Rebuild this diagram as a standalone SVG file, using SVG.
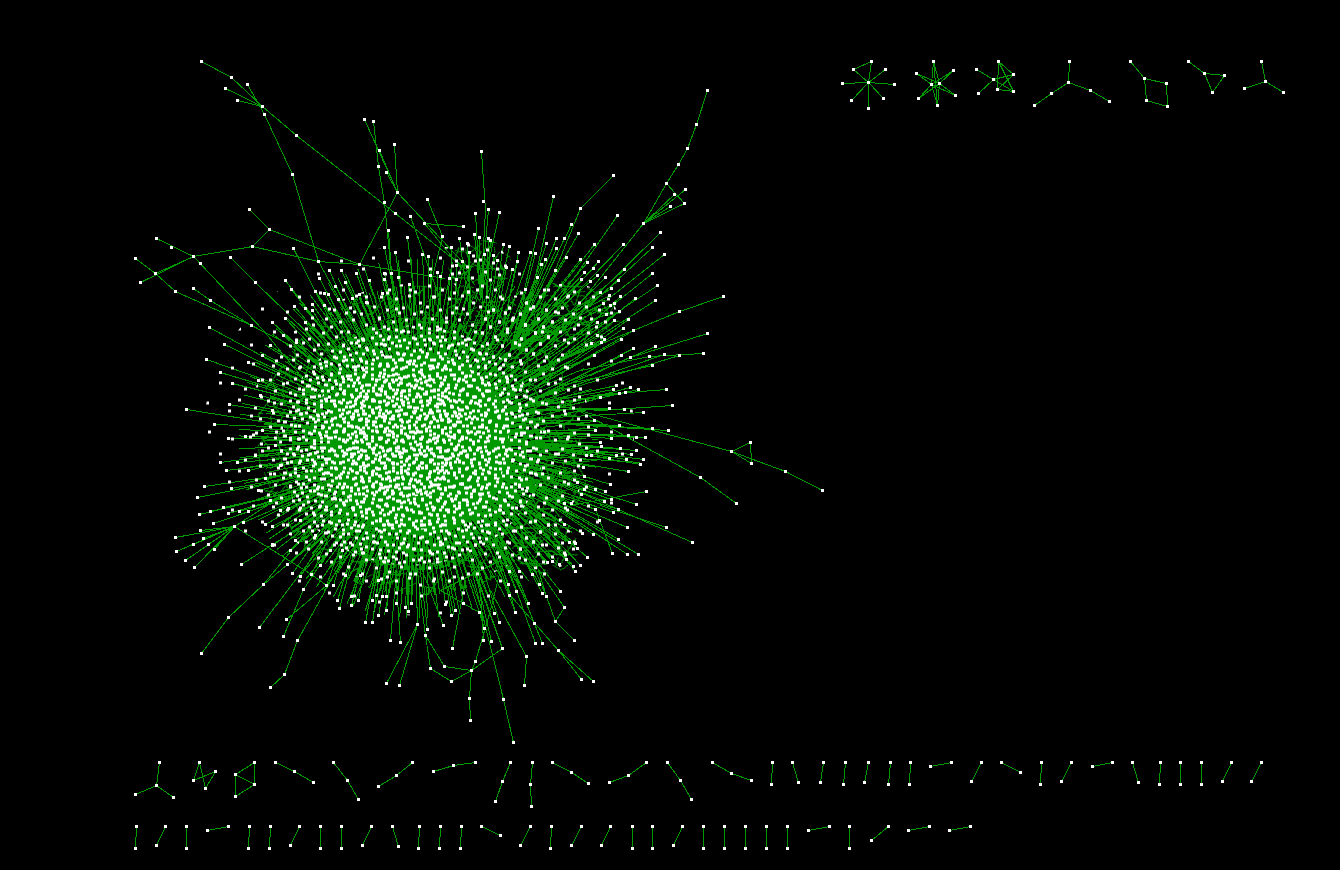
<svg xmlns="http://www.w3.org/2000/svg" width="1340" height="870" viewBox="0 0 1340 870">
<style>
.e{fill:none;stroke:#090;stroke-width:1;shape-rendering:crispEdges}
.r{fill:none;stroke:#090;shape-rendering:crispEdges}
.n{fill:none;stroke:#fff;stroke-width:3;shape-rendering:crispEdges}
</style>
<defs>
<pattern id="pa" width="41" height="37" patternUnits="userSpaceOnUse"><path class="n" d="M3 4h3M11 2h3M19 5h3M27 3h3M35 6h3M7 10h3M15 11h3M23 9h3M31 12h3M38 14h3M4 17h3M12 18h3M20 15h3M28 19h3M35 20h3M8 24h3M16 23h3M24 26h3M32 25h3M38 28h3M3 30h3M11 31h3M19 32h3M27 33h3M34 34h3M14 6h3M30 7h3"/></pattern>
<pattern id="pa2" width="41" height="37" patternUnits="userSpaceOnUse" patternTransform="translate(13 17)"><path class="n" d="M3 4h3M11 2h3M19 5h3M27 3h3M35 6h3M7 10h3M15 11h3M23 9h3M31 12h3M38 14h3M4 17h3M12 18h3M20 15h3M28 19h3M35 20h3M8 24h3M16 23h3M24 26h3M32 25h3M38 28h3M3 30h3M11 31h3M19 32h3M27 33h3M34 34h3"/></pattern>
<pattern id="pb" width="53" height="47" patternUnits="userSpaceOnUse"><path class="n" d="M5 3h3M18 7h3M30 2h3M44 9h3M10 14h3M25 16h3M38 13h3M49 20h3M3 24h3M16 27h3M32 25h3M43 31h3M8 36h3M22 39h3M35 37h3M48 42h3M13 44h3M28 30h3"/></pattern>
<pattern id="pc" width="67" height="71" patternUnits="userSpaceOnUse"><path class="n" d="M8 5h3M31 12h3M52 8h3M19 27h3M44 33h3M61 24h3M6 47h3M28 55h3M50 60h3M38 44h3"/></pattern>
<pattern id="pd" width="29" height="31" patternUnits="userSpaceOnUse"><path class="n" d="M2 3h3M9 7h3M16 2h3M24 6h3M5 13h3M13 15h3M21 12h3M25 18h3M3 22h3M10 24h3M18 21h3M24 27h3M7 28h3M15 28h3"/></pattern>
<pattern id="e1" width="37" height="35" patternUnits="userSpaceOnUse" patternTransform="rotate(20)"><path class="e" d="M2 3L14 16M20 2L12 30M24 6L36 14M35 20L22 33M3 22L18 18M6 33L16 22M26 18L33 33M30 2L24 16"/></pattern>
<pattern id="e2" width="37" height="35" patternUnits="userSpaceOnUse" patternTransform="rotate(75)"><path class="e" d="M2 3L14 16M20 2L12 30M24 6L36 14M35 20L22 33M3 22L18 18M6 33L16 22M26 18L33 33M30 2L24 16"/></pattern>
<pattern id="e3" width="31" height="29" patternUnits="userSpaceOnUse" patternTransform="rotate(130)"><path class="e" d="M2 3L14 16M20 2L12 27M24 6L30 14M29 20L22 27M3 22L18 18M6 27L16 22M26 18L28 27M28 2L24 16"/></pattern>
</defs>
<rect width="1340" height="870" fill="#000"/>
<g id="connectors" transform="translate(.5 .5)">
<ellipse cx="418" cy="443" rx="93" ry="92" fill="#090"/>
<ellipse cx="420" cy="440" rx="165" ry="155" fill="url(#e1)"/>
<ellipse cx="420" cy="442" rx="145" ry="135" fill="url(#e2)"/>
<ellipse cx="420" cy="442" rx="122" ry="115" fill="url(#e3)"/>
<ellipse cx="420" cy="442" rx="122" ry="115" fill="url(#e1)"/>
<ellipse cx="480" cy="268" rx="32" ry="30" fill="url(#e2)"/>
<ellipse cx="480" cy="268" rx="26" ry="26" fill="url(#e1)"/>
<ellipse cx="570" cy="315" rx="50" ry="35" fill="url(#e2)"/>
<ellipse cx="570" cy="315" rx="42" ry="28" fill="url(#e3)"/>
<ellipse cx="545" cy="545" rx="34" ry="28" fill="url(#e2)"/>
<ellipse cx="545" cy="545" rx="28" ry="22" fill="url(#e3)"/>
<ellipse cx="510" cy="335" rx="48" ry="42" fill="url(#e3)"/>
<ellipse cx="530" cy="470" rx="60" ry="55" fill="url(#e3)"/>
<circle class="r" cx="418" cy="443" r="100" stroke-width="18" stroke-dasharray="3 1 2 1 4 1 2 1"/>
<circle class="r" cx="418" cy="443" r="116" stroke-width="22" stroke-dasharray="2 1 1 2 3 2 1 1 1 3"/>
<circle class="r" cx="418" cy="440" r="140" stroke-width="30" stroke-dasharray="1 3 2 4 1 3 1 6 1 3"/>
<circle class="r" cx="418" cy="438" r="165" stroke-width="30" stroke-dasharray="1 7 1 11 1 5 1 13 1 9"/>
<path class="e" d="M201 61L231 77L262 106L296 135L395 213L470 272M247 84L264 114L292 174L318 261L345 310M225 88L262 106M237 100L262 106M364 119L397 192M373 121L378 166L384 202L392 285M394 144L397 192M379 150L397 192M386 172L397 192M397 192L359 264M397 192L470 270M427 199L442 236L430 285M424 223L463 226M424 223L475 285M410 216L440 300M249 209L269 229L252 246L193 256L155 273M269 229L359 264M252 246L318 261L359 264L445 278M156 238L193 256L263 330L300 375M140 282L193 256M135 258L155 273L175 291L251 325L300 350M230 257L255 282L320 345M193 288L210 300L251 325M293 248L340 340M388 230L395 330M707 90L696 124L687 148L678 164L666 183L643 223L550 340M666 183L684 203M643 223L685 189M643 223L684 203M643 223L674 194M643 223L670 206M613 175L580 208L530 330M553 196L525 320M481 151L485 210L480 300M723 296L679 311L560 360M707 333L630 357L590 375M703 353L649 356L580 370M652 365L560 385M666 389L590 395M672 405L600 410L540 405M731 451L750 442L751 463L731 451L785 471L822 490M731 451L560 405M736 503L700 477L560 400M692 542L530 470M666 527L600 505M646 491L570 505M612 553L595 509M558 650L581 679M558 650L593 681M558 650L510 595M524 685L526 656L490 590M555 621L574 640M555 621L564 607M555 621L546 596L535 560M560 591L520 540M234 526L175 537M234 526L176 551M234 526L185 560M234 526L194 567M234 526L193 544M234 526L203 538M234 526L200 530M234 526L208 544M234 526L214 549M234 526L311 574L326 585M234 526L290 490M241 564L272 544L345 500M201 653L228 617L263 584L287 564L340 515M259 627L340 520M286 619L326 585L365 530M283 636L303 589L345 525M270 687L284 674L297 640L350 545M386 683L417 624M399 685L417 624L415 555M425 635L415 555M425 635L444 666L471 670M425 635L430 668L451 681L471 670L502 648L470 560M471 670L475 661L490 610L500 570M471 670L469 698L470 720M513 742L503 699L465 545M443 625L418 560M452 648L465 580M483 640L478 560M390 640L396 570M400 642L395 570M491 641L472 560M499 622L480 560M479 612L440 590L500 560M540 445L600 455M545 450L610 452M535 460L590 448M530 455L640 462"/>
<path class="e" d="M285 280L400 430M291 289L400 430M294 306L400 430M305 308L400 430M319 278L400 430M329 270L400 430M341 270L410 420M356 273L410 420M369 280L410 420M384 273L420 420M384 279L420 420M391 273L420 420M398 277L420 420M409 284L420 420M345 282L410 420M335 286L410 420M315 291L400 430M328 294L400 430M324 293L400 430M312 304L400 430M324 305L400 430M338 299L410 420M352 298L410 420M359 294L410 420M366 302L410 420M382 293L420 420M395 252L420 420M384 247L420 420M407 237L430 420M422 254L430 420M428 256L430 420M437 272L440 420M430 275L440 420M440 276L440 420M449 278L440 420M456 279L450 420M456 265L450 420M451 247L450 420M459 238L470 320M467 243L470 320M469 252L470 320M475 213L480 300M474 234L480 300M479 237L480 300M462 261L470 320M488 209L480 300M499 212L480 300M488 238L485 320M490 240L485 320M503 244L490 330M509 246L490 330M518 252L500 340M530 252L500 340M535 253L510 350M517 261L500 340M546 243L510 350M556 238L510 350M564 238L510 350M556 248L510 350M566 257L510 350M541 264L510 350M545 259L510 350M555 270L510 350M538 228L510 350M571 224L510 350M578 233L510 350M617 215L530 340M594 244L510 350M598 261L520 350M623 244L520 350M660 232L530 360M652 247L530 360M664 254L530 360M624 269L520 360M618 280L520 360M605 277L520 360M652 273L530 370M657 285L530 370M655 300L530 380M635 298L530 380M620 296L530 380M619 311L530 380M614 320L530 380M628 319L530 390M633 330L530 390M623 328L530 390M621 339L530 390M655 346L530 400M633 348L530 400M679 355L530 400M664 354L530 400M630 357L530 400M621 355L530 400M580 259L510 350M587 262L510 350M593 268L510 350M584 272L510 350M597 275L510 350M581 279L510 350M590 281L510 350M600 292L510 350M609 295L510 350M611 288L510 350M614 303L510 350M606 314L510 350M603 303L510 350M610 305L510 350M597 322L510 370M604 339L510 380M601 342L510 380M594 355L510 390M591 343L510 390M597 335L510 390M537 277L500 350M525 289L500 350M512 269L490 350M506 267L490 350M497 260L485 340M493 255L485 340M484 254L480 340"/>
<path class="e" d="M638 389L500 420M630 387L500 420M643 412L500 420M668 430L500 420M652 428L500 420M645 437L500 430M636 437L500 430M628 435L500 430M636 450L500 440M643 459L500 440M640 464L500 440M628 471L500 450M610 484L500 450M605 491L500 450M636 504L500 460M638 554L500 470M627 554L500 470M618 539L500 470M593 534L500 470M587 557L500 480M580 565L500 480M575 571L500 480M573 566L500 480M546 596L500 490M528 603L480 490M515 612L480 490M534 623L480 490M542 643L480 490M535 643L480 490M564 607L490 500M616 385L500 410M613 389L500 410M619 393L500 410M625 392L500 410M600 397L500 410M624 409L500 410M609 408L500 410M619 425L500 420M594 420L500 420M595 430L500 430M611 438L500 430M600 442L500 440M601 446L500 440M620 448L500 440M631 454L500 440M616 455L500 440M626 459L500 440M609 458L500 440M591 455L500 440M586 455L500 440M583 467L500 450M584 476L500 450M577 482L500 450M595 489L500 450M584 489L500 460M581 494L500 460M604 501L500 460M611 499L500 460M571 503L490 460M564 503L490 460M595 509L490 470M613 512L490 470M618 509L490 470M599 520L490 470M627 527L490 470M582 533L490 480M564 524L490 480M575 543L490 480M569 542L490 480M577 548L490 480M566 559L480 480M559 564L480 480M552 561L480 480M547 562L480 480M532 574L480 480M539 584L480 480M542 593L480 480M516 591L470 480M508 584L470 480M509 595L470 480M519 571L470 480M509 571L470 480M515 612L470 500M528 603L470 500M502 648L450 500"/>
<path class="e" d="M199 514L340 480M210 511L340 480M223 507L340 480M228 513L340 480M213 523L340 480M239 511L340 480M248 511L340 480M243 522L340 480M265 524L340 480M272 526L340 490M263 584L340 490M300 576L350 490M292 573L350 490M311 574L350 490M326 585L360 490M333 585L360 490M337 600L370 490M339 608L370 490M351 605L380 490M358 600L380 490M351 596L380 490M372 600L390 490M376 595L390 490M382 596L390 490M386 596L390 490M365 622L390 490M372 622L390 490M378 615L400 490M386 610L400 490M396 603L410 490M405 607L410 490M408 611L410 490M411 603L410 490M427 629L410 490M451 615L430 490M455 610L430 490M445 604L430 490M463 603L440 490M484 628L440 490M494 613L450 490"/>
<path class="e" d="M209 327L380 420M224 344L380 420M206 359L380 420M220 372L380 420M232 383L380 420M186 409L380 440M229 404L380 430M214 424L380 430M228 438L380 440M245 436L380 440M258 380L380 430M248 362L380 420M262 355L380 420M270 345L380 420M283 335L380 420M296 342L380 420M272 322L380 420M285 318L380 420M305 322L380 420M312 310L380 420M260 395L380 430M272 410L380 430M262 430L380 440M275 445L380 440M255 455L380 440M248 470L380 440M220 462L380 440M237 462L380 450M226 470L380 450M265 478L380 450M280 465L380 450M270 500L380 450M280 510L380 450M197 497L380 460M204 486L380 460M231 488L380 460M258 490L380 460M288 508L380 460M300 520L380 470M315 535L380 470M295 540L380 470M330 550L380 470M342 550L380 470M320 565L380 470M345 575L390 470M360 575L390 470M378 580L390 470M290 550L380 470M272 545L380 470"/>
<path class="e" d="M842 83L868 82M853 69L868 82M871 61L868 82M853 69L871 61M885 69L868 82M894 84L868 82M851 100L868 82M883 98L868 82M868 108L868 82M933 61L937 105M933 61L931 84L937 105M939 83L933 61M939 83L937 105M916 73L939 83M916 73L931 84M953 70L931 84M953 70L939 83M918 98L931 84M918 98L939 83M955 95L931 84M955 95L939 83M976 69L993 79L1013 74M993 79L978 93M993 79L1013 91M998 61L1013 74L997 89L1013 91M998 61L997 89M998 61L1013 91M1069 61L1068 82L1051 93L1034 105M1068 82L1090 90L1109 101M1130 61L1144 78L1166 83L1167 106L1146 100L1144 78M1188 61L1204 73L1224 75L1212 92L1204 73M1261 61L1265 81L1244 88M1265 81L1283 92"/>
<path class="e" d="M159 762L156 785L135 794M156 785L173 797M199 762L193 780L215 771L205 788L199 762M254 762L235 774L254 784L254 762M235 774L235 796L254 784M275 762L294 771L313 782M333 762L347 780L358 799M412 762L396 775L378 786M433 771L453 765L475 762M510 762L502 781L495 801M532 762L530 784L531 806M552 762L571 772L588 783M609 782L628 775L646 762M667 762L680 780L691 799M712 762L731 773L751 780M772 762L771 784M792 762L798 782M823 762L820 782M845 762L843 784M868 762L864 782M890 762L888 784M910 762L909 784M930 766L951 762M981 762L971 781M1001 762L1020 772M1041 762L1040 784M1071 762L1061 781M1092 766L1112 762M1132 762L1138 782M1160 762L1159 784M1180 762L1180 784M1201 762L1201 784M1231 762L1222 781M1261 762L1251 781"/>
<path class="e" d="M136 826L135 848M165 826L156 845M186 826L186 848M207 830L228 826M249 826L248 848M270 826L269 848M299 826L290 845M320 826L320 848M341 826L341 848M371 826L362 845M392 826L398 846M419 826L418 848M440 826L439 848M461 826L460 848M481 826L500 835M530 826L520 845M551 826L550 848M581 826L571 845M610 826L601 845M632 826L632 848M652 826L652 848M682 826L673 845M703 826L703 848M724 826L724 848M745 826L745 848M766 826L766 848M787 826L787 848M808 830L829 826M849 826L849 848M888 826L871 840M908 830L929 826M949 830L970 826"/>
</g>
<g transform="translate(-1 .5)">
<g id="giant">
<ellipse cx="420" cy="430" rx="215" ry="185" fill="url(#pc)"/>
<ellipse cx="420" cy="435" rx="172" ry="152" fill="url(#pb)"/>
<ellipse cx="412" cy="445" rx="132" ry="120" fill="url(#pa)"/>
<ellipse cx="410" cy="440" rx="100" ry="90" fill="url(#pd)"/>
<ellipse cx="405" cy="435" rx="62" ry="62" fill="url(#pa2)"/>
<ellipse cx="480" cy="268" rx="30" ry="28" fill="url(#pb)"/>
<ellipse cx="570" cy="315" rx="48" ry="32" fill="url(#pb)"/>
<ellipse cx="545" cy="545" rx="32" ry="25" fill="url(#pb)"/>
<ellipse cx="515" cy="330" rx="42" ry="35" fill="url(#pb)"/>
<path class="n" d="M201 61h3M231 77h3M247 84h3M225 88h3M237 100h3M262 106h3M264 114h3M296 135h3M292 174h3M364 119h3M373 121h3M394 144h3M379 150h3M378 166h3M386 172h3M397 192h3M384 202h3M395 213h3M427 199h3M410 216h3M424 223h3M463 226h3M442 236h3M249 209h3M269 229h3M252 246h3M359 264h3M318 261h3M293 248h3M193 256h3M156 238h3M171 247h3M200 263h3M135 258h3M155 273h3M140 282h3M175 291h3M230 257h3M255 282h3M193 288h3M210 300h3M251 325h3M707 90h3M696 124h3M687 148h3M678 164h3M666 183h3M643 223h3M674 194h3M685 189h3M684 203h3M670 206h3M613 175h3M580 208h3M553 196h3M617 215h3M571 224h3M578 233h3M538 228h3M660 232h3M652 247h3M664 254h3M623 244h3M594 244h3M598 261h3M652 273h3M657 285h3M655 300h3M635 298h3M723 296h3M679 311h3M707 333h3M628 319h3M633 330h3M623 328h3M621 339h3M655 346h3M633 348h3M703 353h3M679 355h3M664 354h3M649 356h3M630 357h3M621 355h3M624 269h3M618 280h3M605 277h3M620 296h3M619 311h3M614 320h3M652 365h3M666 389h3M638 389h3M630 387h3M672 405h3M643 412h3M668 430h3M652 428h3M645 437h3M636 437h3M628 435h3M731 451h3M750 442h3M751 463h3M785 471h3M822 490h3M700 477h3M736 503h3M636 450h3M643 459h3M640 464h3M628 471h3M610 484h3M605 491h3M646 491h3M636 504h3M666 527h3M692 542h3M638 554h3M627 554h3M612 553h3M618 539h3M593 534h3M587 557h3M580 565h3M575 571h3M573 566h3M560 591h3M546 596h3M564 607h3M574 640h3M555 621h3M558 650h3M581 679h3M593 681h3M542 643h3M535 643h3M528 603h3M515 612h3M534 623h3M526 656h3M524 685h3M502 648h3M175 537h3M176 551h3M185 560h3M194 567h3M193 544h3M203 538h3M200 530h3M208 544h3M214 549h3M234 526h3M241 564h3M199 514h3M210 511h3M223 507h3M228 513h3M213 523h3M239 511h3M248 511h3M243 522h3M265 524h3M272 526h3M272 544h3M263 584h3M228 617h3M201 653h3M259 627h3M286 619h3M283 636h3M297 640h3M284 674h3M270 687h3M303 589h3M300 576h3M292 573h3M287 564h3M311 574h3M326 585h3M333 585h3M337 600h3M339 608h3M351 605h3M358 600h3M351 596h3M372 600h3M376 595h3M382 596h3M386 596h3M365 622h3M372 622h3M378 615h3M386 610h3M396 603h3M405 607h3M408 611h3M411 603h3M390 640h3M400 642h3M417 624h3M427 629h3M425 635h3M443 625h3M386 683h3M399 685h3M430 668h3M444 666h3M451 681h3M471 670h3M475 661h3M469 698h3M470 720h3M503 699h3M513 742h3M452 648h3M483 640h3M491 641h3M484 628h3M479 612h3M499 622h3M494 613h3M451 615h3M455 610h3M445 604h3M463 603h3"/>
<path class="n" d="M285 280h3M291 289h3M294 306h3M305 308h3M319 278h3M329 270h3M341 270h3M356 273h3M369 280h3M384 273h3M384 279h3M391 273h3M398 277h3M409 284h3M345 282h3M335 286h3M315 291h3M328 294h3M324 293h3M312 304h3M324 305h3M338 299h3M352 298h3M359 294h3M366 302h3M382 293h3M395 252h3M388 230h3M384 247h3M407 237h3M422 254h3M428 256h3M437 272h3M430 275h3M440 276h3M449 278h3M456 279h3M456 265h3M451 247h3M459 238h3M467 243h3M469 252h3M475 213h3M474 234h3M479 237h3M462 261h3M481 151h3M483 201h3M488 209h3M499 212h3M488 238h3M490 240h3M503 244h3M509 246h3M518 252h3M530 252h3M535 253h3M517 261h3M546 243h3M556 238h3M564 238h3M556 248h3M566 257h3M541 264h3M545 259h3M555 270h3M580 259h3M587 262h3M593 268h3M584 272h3M597 275h3M581 279h3M590 281h3M600 292h3M609 295h3M611 288h3M614 303h3M606 314h3M603 303h3M610 305h3M597 322h3M604 339h3M601 342h3M594 355h3M591 343h3M597 335h3M537 277h3M525 289h3M512 269h3M506 267h3M497 260h3M493 255h3M484 254h3M616 385h3M613 389h3M619 393h3M625 392h3M600 397h3M624 409h3M609 408h3M619 425h3M594 420h3M595 430h3M611 438h3M600 442h3M601 446h3M620 448h3M631 454h3M616 455h3M626 459h3M609 458h3M591 455h3M586 455h3M583 467h3M584 476h3M577 482h3M595 489h3M584 489h3M581 494h3M604 501h3M611 499h3M571 503h3M564 503h3M595 509h3M613 512h3M618 509h3M599 520h3M627 527h3M582 533h3M564 524h3M575 543h3M569 542h3M577 548h3M566 559h3M559 564h3M552 561h3M547 562h3M532 574h3M539 584h3M542 593h3M516 591h3M508 584h3M509 595h3M519 571h3M509 571h3M209 327h3M224 344h3M206 359h3M220 372h3M232 383h3M186 409h3M229 404h3M214 424h3M228 438h3M245 436h3M258 380h3M248 362h3M262 355h3M270 345h3M283 335h3M296 342h3M272 322h3M285 318h3M305 322h3M312 310h3M260 395h3M272 410h3M262 430h3M275 445h3M255 455h3M248 470h3M220 462h3M237 462h3M226 470h3M265 478h3M280 465h3M270 500h3M280 510h3M197 497h3M204 486h3M231 488h3M258 490h3M288 508h3M300 520h3M315 535h3M295 540h3M330 550h3M342 550h3M320 565h3M345 575h3M360 575h3M378 580h3M290 550h3M272 545h3"/>
</g>
<g id="c1"><path class="n" d="M868 82h3M871 61h3M853 69h3M885 69h3M842 83h3M894 84h3M851 100h3M883 98h3M868 108h3"/></g>
<g id="c2"><path class="n" d="M933 61h3M916 73h3M953 70h3M931 84h3M939 83h3M918 98h3M955 95h3M937 105h3"/></g>
<g id="c3"><path class="n" d="M998 61h3M976 69h3M1013 74h3M993 79h3M978 93h3M997 89h3M1013 91h3"/></g>
<g id="c4"><path class="n" d="M1069 61h3M1068 82h3M1051 93h3M1034 105h3M1090 90h3M1109 101h3"/></g>
<g id="c5"><path class="n" d="M1130 61h3M1144 78h3M1166 83h3M1146 100h3M1167 106h3"/></g>
<g id="c6"><path class="n" d="M1188 61h3M1204 73h3M1224 75h3M1212 92h3"/></g>
<g id="c7"><path class="n" d="M1261 61h3M1265 81h3M1244 88h3M1283 92h3"/></g>
<g id="row1"><path class="n" d="M159 762h3M156 785h3M135 794h3M173 797h3M199 762h3M193 780h3M215 771h3M205 788h3M254 762h3M235 774h3M254 784h3M235 796h3M275 762h3M294 771h3M313 782h3M333 762h3M347 780h3M358 799h3M412 762h3M396 775h3M378 786h3M433 771h3M453 765h3M475 762h3M510 762h3M502 781h3M495 801h3M532 762h3M530 784h3M531 806h3M552 762h3M571 772h3M588 783h3M609 782h3M628 775h3M646 762h3M667 762h3M680 780h3M691 799h3M712 762h3M731 773h3M751 780h3M772 762h3M771 784h3M792 762h3M798 782h3M823 762h3M820 782h3M845 762h3M843 784h3M868 762h3M864 782h3M890 762h3M888 784h3M910 762h3M909 784h3M930 766h3M951 762h3M981 762h3M971 781h3M1001 762h3M1020 772h3M1041 762h3M1040 784h3M1071 762h3M1061 781h3M1092 766h3M1112 762h3M1132 762h3M1138 782h3M1160 762h3M1159 784h3M1180 762h3M1180 784h3M1201 762h3M1201 784h3M1231 762h3M1222 781h3M1261 762h3M1251 781h3"/></g>
<g id="row2"><path class="n" d="M136 826h3M135 848h3M165 826h3M156 845h3M186 826h3M186 848h3M207 830h3M228 826h3M249 826h3M248 848h3M270 826h3M269 848h3M299 826h3M290 845h3M320 826h3M320 848h3M341 826h3M341 848h3M371 826h3M362 845h3M392 826h3M398 846h3M419 826h3M418 848h3M440 826h3M439 848h3M461 826h3M460 848h3M481 826h3M500 835h3M530 826h3M520 845h3M551 826h3M550 848h3M581 826h3M571 845h3M610 826h3M601 845h3M632 826h3M632 848h3M652 826h3M652 848h3M682 826h3M673 845h3M703 826h3M703 848h3M724 826h3M724 848h3M745 826h3M745 848h3M766 826h3M766 848h3M787 826h3M787 848h3M808 830h3M829 826h3M849 826h3M849 848h3M888 826h3M871 840h3M908 830h3M929 826h3M949 830h3M970 826h3"/></g>
</g>
</svg>
